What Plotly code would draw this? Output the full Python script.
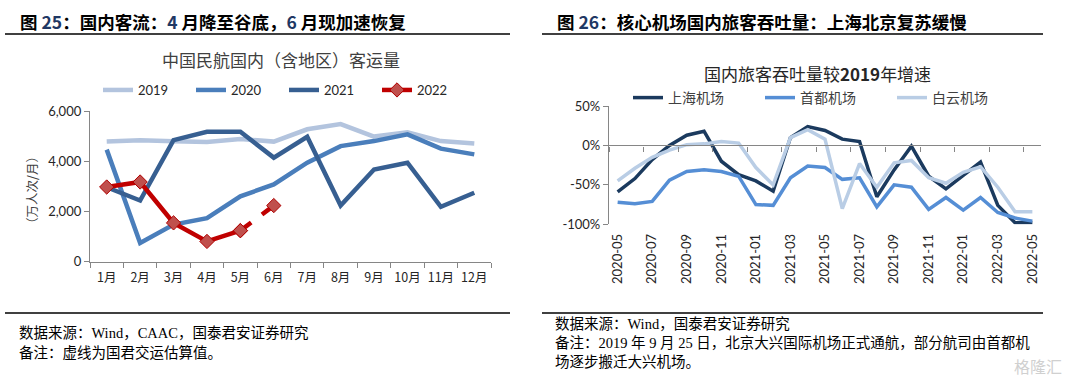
import plotly.graph_objects as go

W, H = 1068, 377

# ---------------- Left chart data ----------------
months = ["1月", "2月", "3月", "4月", "5月", "6月", "7月", "8月", "9月", "10月", "11月", "12月"]
pax_2019 = [4780, 4830, 4790, 4760, 4880, 4780, 5270, 5480, 4980, 5150, 4800, 4700]
pax_2020 = [4460, 740, 1470, 1730, 2600, 3070, 3940, 4600, 4800, 5070, 4500, 4270]
pax_2021 = [2960, 2430, 4840, 5170, 5170, 4140, 4970, 2230, 3670, 3940, 2180, 2740]
pax_2022_actual = [2970, 3170, 1540, 800, 1230]
pax_2022_est = [1230, 2230]   # 5月 -> 6月 (estimate, dashed)
est_months = ["5月", "6月"]
y1_ticks = [0, 2000, 4000, 6000]

# ---------------- Right chart data ----------------
dates = ["2020-05", "2020-06", "2020-07", "2020-08", "2020-09", "2020-10", "2020-11", "2020-12",
         "2021-01", "2021-02", "2021-03", "2021-04", "2021-05", "2021-06", "2021-07", "2021-08",
         "2021-09", "2021-10", "2021-11", "2021-12", "2022-01", "2022-02", "2022-03", "2022-04", "2022-05"]
shanghai = [-59, -42, -18, 0, 13, 18, -20, -37, -45, -58, 10, 24, 19, 8, 5, -65,
            -31, -1, -39, -55, -38, -21, -76, -98, -98]
beijing = [-72, -74, -71, -44, -33, -31, -33, -39, -75, -76, -41, -26, -28, -43, -41, -78,
           -50, -53, -81, -66, -82, -66, -85, -92, -96]
baiyun = [-45, -29, -15, -6, 1, 2, 5, 3, -28, -50, 10, 20, 8, -80, -23, -53,
          -22, -19, -41, -48, -34, -27, -53, -84, -84]
y2_ticks = [50, 0, -50, -100]
y2_ticktext = ["50%", "0%", "-50%", "-100%"]

FONT = "Lato, Noto Sans CJK SC, sans-serif"
CJK = "Noto Sans CJK SC, sans-serif"
SERIF = "Liberation Serif, Noto Sans CJK SC, serif"
AXC = "#868686"

def px(x):
    return x / W

def py(y):
    return 1 - y / H

fig = go.Figure()

# Left chart traces
fig.add_trace(go.Scatter(x=months, y=pax_2019, name="2019", mode="lines",
                         line=dict(color="#B3C4DE", width=4.5), xaxis="x", yaxis="y", legend="legend"))
fig.add_trace(go.Scatter(x=months, y=pax_2020, name="2020", mode="lines",
                         line=dict(color="#4A7EBB", width=4.5), xaxis="x", yaxis="y", legend="legend"))
fig.add_trace(go.Scatter(x=months, y=pax_2021, name="2021", mode="lines",
                         line=dict(color="#375F91", width=4.5), xaxis="x", yaxis="y", legend="legend"))
fig.add_trace(go.Scatter(x=est_months, y=pax_2022_est, name="2022 est", mode="lines+markers",
                         line=dict(color="#C00000", width=4.5, dash="dash"),
                         marker=dict(symbol="diamond", size=11, color="#C0504D",
                                     line=dict(color="#B00000", width=1)),
                         showlegend=False, xaxis="x", yaxis="y"))
fig.add_trace(go.Scatter(x=months[:5], y=pax_2022_actual, name="2022", mode="lines+markers",
                         line=dict(color="#C00000", width=4.5),
                         marker=dict(symbol="diamond", size=11, color="#C0504D",
                                     line=dict(color="#B00000", width=1)),
                         xaxis="x", yaxis="y", legend="legend"))

# Right chart traces
fig.add_trace(go.Scatter(x=dates, y=shanghai, name="上海机场", mode="lines",
                         line=dict(color="#1B3A5E", width=3.5), xaxis="x2", yaxis="y2", legend="legend2"))
fig.add_trace(go.Scatter(x=dates, y=beijing, name="首都机场", mode="lines",
                         line=dict(color="#558ED5", width=3.5), xaxis="x2", yaxis="y2", legend="legend2"))
fig.add_trace(go.Scatter(x=dates, y=baiyun, name="白云机场", mode="lines",
                         line=dict(color="#B9CDE5", width=3.5), xaxis="x2", yaxis="y2", legend="legend2"))
# invisible trace carrying the zero-crossing axis with tick marks
fig.add_trace(go.Scatter(x=dates, y=shanghai, mode="lines", line=dict(width=0), opacity=0,
                         showlegend=False, hoverinfo="skip", xaxis="x3", yaxis="y2"))

# domains
xd1 = [px(90), px(491)]
yd1 = [py(261.5), py(111)]
xd2 = [px(609), px(1041)]
yd2 = [py(224.3), py(106)]
y2min, y2max = -100, 50
zero_pos = yd2[0] + (0 - y2min) / (y2max - y2min) * (yd2[1] - yd2[0])

fig.update_layout(
    width=W, height=H, margin=dict(l=0, r=0, t=0, b=0, pad=0, autoexpand=False),
    paper_bgcolor="white", plot_bgcolor="white",
    font=dict(family=FONT, size=13, color="#404040"),
    xaxis=dict(domain=xd1, anchor="y", type="category", categoryarray=months,
               range=[-0.5, 11.5], showline=True, linecolor=AXC, linewidth=1.3,
               ticks="outside", ticklen=5, tickcolor=AXC, tickson="boundaries", tickangle=0,
               showgrid=False, tickfont=dict(family=CJK, size=12.5, color="#262626"),
               ticklabelstandoff=4, automargin=False),
    yaxis=dict(domain=yd1, anchor="x", range=[0, 6000], tickvals=y1_ticks,
               tickformat=",", showline=True, linecolor=AXC, linewidth=1.3,
               ticks="outside", ticklen=5, tickcolor=AXC, showgrid=False, zeroline=False,
               tickfont=dict(size=13, color="#262626"), automargin=False),
    xaxis2=dict(domain=xd2, anchor="y2", type="category", categoryarray=dates,
                range=[-0.5, 24.5], showline=False, ticks="", tickangle=-90, dtick=2,
                showgrid=False, tickfont=dict(size=13, color="#262626"), ticklabelstandoff=6,
                automargin=False),
    xaxis3=dict(domain=xd2, overlaying="x2", anchor="free", position=zero_pos, side="bottom",
                type="category", categoryarray=dates, range=[-0.5, 24.5],
                showline=True, linecolor=AXC, linewidth=1.3, ticks="outside", ticklen=5,
                tickcolor=AXC, tickson="boundaries", dtick=2, showticklabels=False, showgrid=False,
                automargin=False),
    yaxis2=dict(domain=yd2, anchor="x2", range=[y2min, y2max], tickmode="array",
                tickvals=y2_ticks, ticktext=y2_ticktext,
                showline=True, linecolor=AXC, linewidth=1.3, ticks="outside",
                ticklen=5, tickcolor=AXC, showgrid=False, zeroline=False,
                tickfont=dict(size=13, color="#262626"), automargin=False),
    legend=dict(orientation="h", x=px(98), y=py(90), xanchor="left", yanchor="middle",
                entrywidth=48, entrywidthmode="pixels", font=dict(size=13, color="#262626"),
                bgcolor="rgba(0,0,0,0)", traceorder="normal"),
    legend2=dict(orientation="h", x=px(628), y=py(98), xanchor="left", yanchor="middle",
                 entrywidth=87, entrywidthmode="pixels",
                 font=dict(family=CJK, size=14, color="#404040"), bgcolor="rgba(0,0,0,0)"),
    showlegend=True,
)

line = dict(color="#000000", width=1.3)
shapes = [
    dict(type="line", xref="paper", yref="paper", x0=px(5), x1=px(510), y0=py(34), y1=py(34), line=line),
    dict(type="line", xref="paper", yref="paper", x0=px(5), x1=px(510), y0=py(313), y1=py(313), line=line),
    dict(type="line", xref="paper", yref="paper", x0=px(542), x1=px(1043), y0=py(34), y1=py(34), line=line),
    dict(type="line", xref="paper", yref="paper", x0=px(542), x1=px(1043), y0=py(313), y1=py(313), line=line),
]
fig.update_layout(shapes=shapes)

NUM = "#1F3864"
ann = [
    dict(text=f"<b>图 <span style='color:{NUM}'>25</span>：国内客流：<span style='color:{NUM}'>4</span> 月降至谷底，"
              f"<span style='color:{NUM}'>6</span> 月现加速恢复</b>",
         x=px(18), y=py(21), xanchor="left", yanchor="middle",
         font=dict(family=CJK, size=17.5, color="#000000")),
    dict(text=f"<b>图 <span style='color:{NUM}'>26</span>：核心机场国内旅客吞吐量：上海北京复苏缓慢</b>",
         x=px(555), y=py(21), xanchor="left", yanchor="middle",
         font=dict(family=CJK, size=17.5, color="#000000")),
    dict(text="中国民航国内（含地区）客运量", x=px(281), y=py(59), xanchor="center", yanchor="middle",
         font=dict(family=CJK, size=17, color="#404040")),
    dict(text="国内旅客吞吐量较<b>2019</b>年增速", x=px(817), y=py(73), xanchor="center", yanchor="middle",
         font=dict(family=CJK, size=17, color="#262626")),
    dict(text="（万人次/月）", x=px(31), y=py(190), xanchor="center", yanchor="middle", textangle=-90,
         font=dict(family=CJK, size=12.5, color="#404040")),
    dict(text="数据来源：Wind，CAAC，国泰君安证券研究", x=px(17), y=py(333), xanchor="left", yanchor="middle",
         font=dict(family=SERIF, size=14.5, color="#000000")),
    dict(text="备注：虚线为国君交运估算值。", x=px(17), y=py(352), xanchor="left", yanchor="middle",
         font=dict(family=SERIF, size=14.5, color="#000000")),
    dict(text="数据来源：Wind，国泰君安证券研究", x=px(553), y=py(324), xanchor="left", yanchor="middle",
         font=dict(family=SERIF, size=14.5, color="#000000")),
    dict(text="备注：2019 年 9 月 25 日，北京大兴国际机场正式通航，部分航司由首都机", x=px(553), y=py(343),
         xanchor="left", yanchor="middle", font=dict(family=SERIF, size=14.5, color="#000000")),
    dict(text="场逐步搬迁大兴机场。", x=px(553), y=py(362), xanchor="left", yanchor="middle",
         font=dict(family=SERIF, size=14.5, color="#000000")),
    dict(text="格隆汇", x=px(1064), y=py(366), xanchor="right", yanchor="middle",
         font=dict(family=CJK, size=16, color="#D0D0D0")),
]
for a in ann:
    a.update(xref="paper", yref="paper", showarrow=False)
fig.update_layout(annotations=ann)

fig.write_html("out.html", config={"displayModeBar": False},
               post_script="document.body.style.margin='0';")
